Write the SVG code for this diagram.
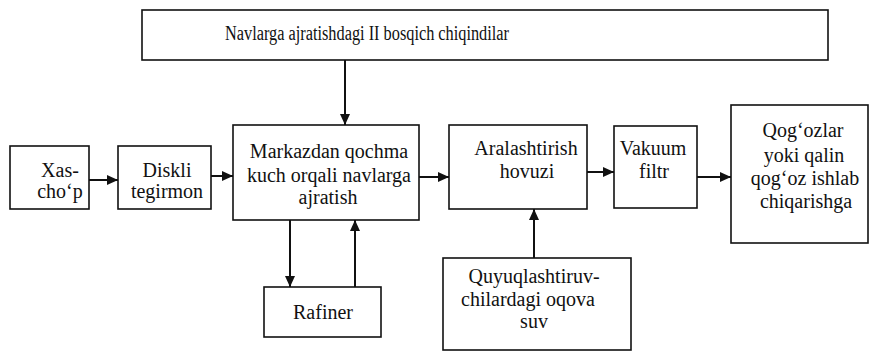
<svg xmlns="http://www.w3.org/2000/svg" width="877" height="356" viewBox="0 0 877 356">
<style>
.box{fill:#fff;stroke:#111;stroke-width:1.6}
.t{font-family:'Liberation Serif','DejaVu Serif',serif;font-size:20px;fill:#111;text-anchor:middle}
.c{stroke:#111;stroke-width:2;fill:none;marker-end:url(#ah)}
</style>
<defs>
<marker id="ah" markerUnits="userSpaceOnUse" markerWidth="12" markerHeight="12" viewBox="0 0 12 12" refX="11" refY="6" orient="auto">
<path d="M0,1 L11,6 L0,11 Z" fill="#111"/>
</marker>
</defs>
<rect width="877" height="356" fill="#fff"/>
<g id="top"><rect class="box" x="142" y="10" width="686" height="50"/><text class="t" x="367" y="40" font-size="17" textLength="284" lengthAdjust="spacingAndGlyphs">Navlarga ajratishdagi II bosqich chiqindilar</text></g>
<g id="xaschop"><rect class="box" x="10" y="146" width="79" height="63"/><text class="t" x="60" y="177">Xas-</text><text class="t" x="60" y="198">cho‘p</text></g>
<g id="diskli"><rect class="box" x="118" y="146" width="93" height="63"/><text class="t" x="167" y="177">Diskli</text><text class="t" x="167" y="198">tegirmon</text></g>
<g id="markazdan"><rect class="box" x="233" y="125" width="186" height="95"/><text class="t" x="329" y="158">Markazdan qochma</text><text class="t" x="329" y="182">kuch orqali navlarga</text><text class="t" x="328" y="204">ajratish</text></g>
<g id="aralash"><rect class="box" x="449" y="125" width="138" height="84"/><text class="t" x="526" y="155">Aralashtirish</text><text class="t" x="527" y="178">hovuzi</text></g>
<g id="vakuum"><rect class="box" x="614" y="126" width="83" height="82"/><text class="t" x="653" y="155">Vakuum</text><text class="t" x="654" y="178">filtr</text></g>
<g id="qogoz"><rect class="box" x="731" y="105" width="137" height="138"/><text class="t" x="803" y="137">Qog‘ozlar</text><text class="t" x="804" y="162">yoki qalin</text><text class="t" x="805" y="185">qog‘oz ishlab</text><text class="t" x="806" y="208">chiqarishga</text></g>
<g id="rafiner"><rect class="box" x="264" y="287" width="117" height="50"/><text class="t" x="323" y="319">Rafiner</text></g>
<g id="quyuq"><rect class="box" x="443" y="258" width="188" height="92"/><text class="t" x="534" y="283">Quyuqlashtiruv-</text><text class="t" x="528" y="306">chilardagi oqova</text><text class="t" x="534" y="328">suv</text></g>
<g id="connectors">
<line class="c" x1="345" y1="60" x2="345" y2="125"/>
<line class="c" x1="89" y1="180" x2="118" y2="180"/>
<line class="c" x1="211" y1="176" x2="233" y2="176"/>
<line class="c" x1="419" y1="177" x2="449" y2="177"/>
<line class="c" x1="587" y1="172" x2="614" y2="172"/>
<line class="c" x1="697" y1="177" x2="731" y2="177"/>
<line class="c" x1="290" y1="220" x2="290" y2="287"/>
<line class="c" x1="355" y1="287" x2="355" y2="220"/>
<line class="c" x1="534" y1="258" x2="534" y2="209"/>
</g>
</svg>
